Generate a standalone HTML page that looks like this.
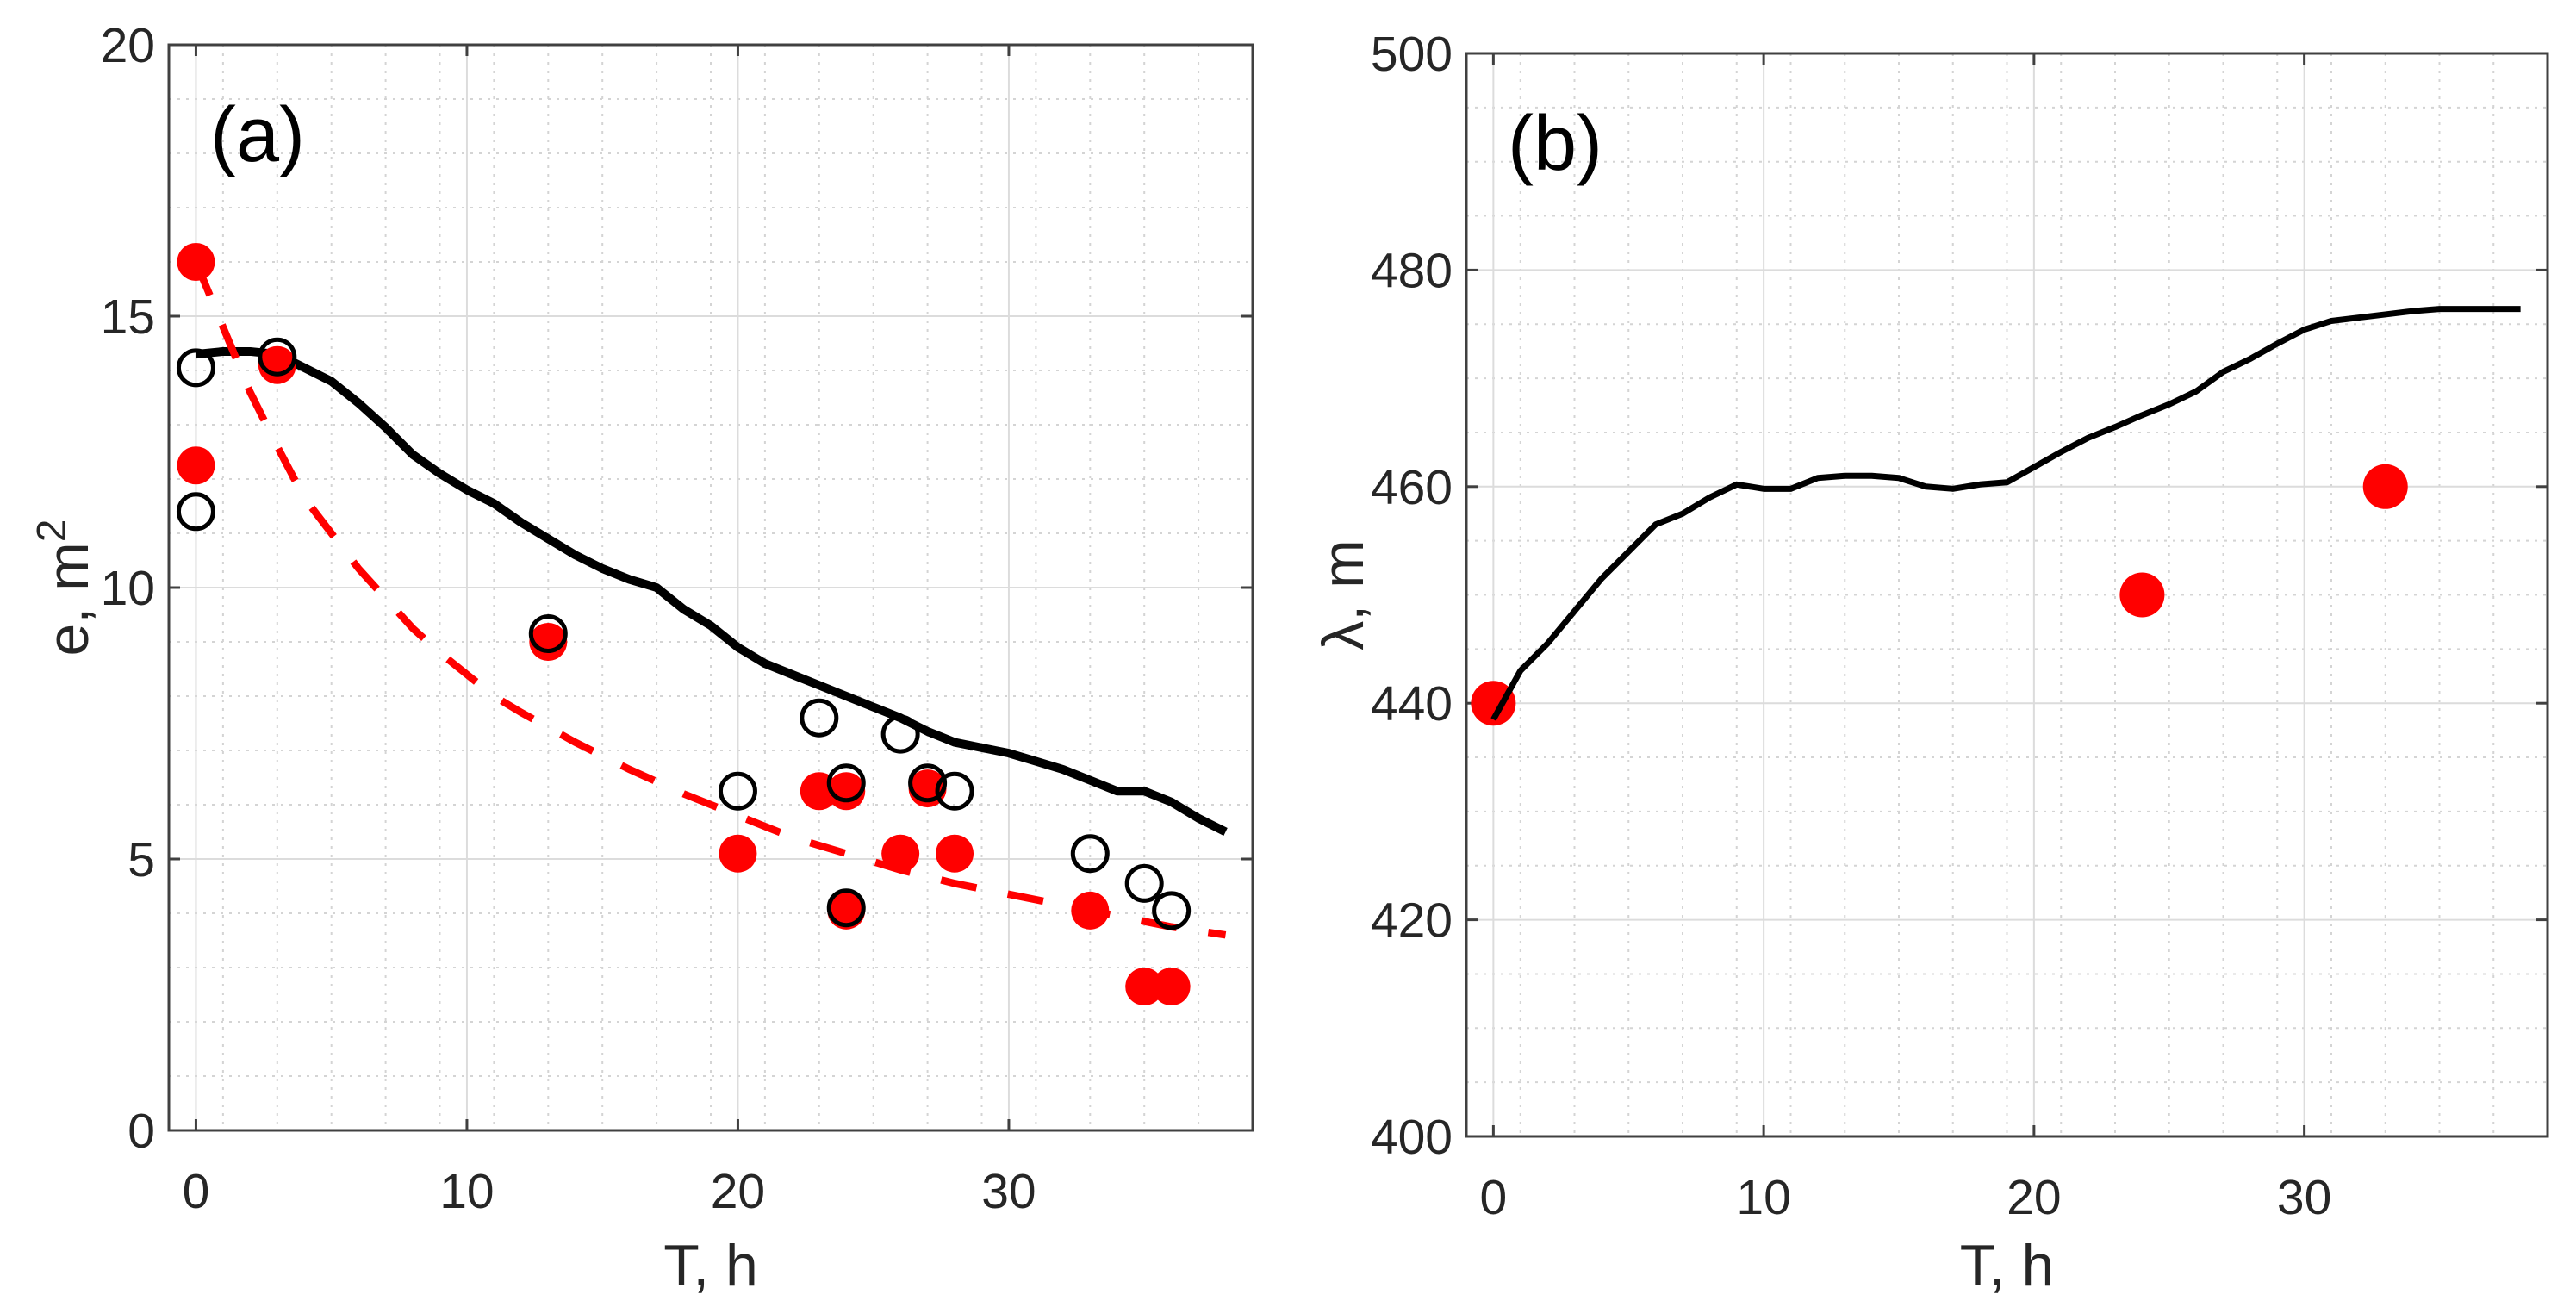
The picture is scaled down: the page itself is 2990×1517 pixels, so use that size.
<!DOCTYPE html>
<html><head><meta charset="utf-8"><style>
html,body{margin:0;padding:0;background:#fff}
svg{display:block}
text{font-family:"Liberation Sans",sans-serif;fill:#262626}
</style></head><body>
<svg id="fig" width="2990" height="1517" xmlns="http://www.w3.org/2000/svg"></svg>
<script>
// Panel (a) data
const aLineT = [0,1,2,3,4,5,6,7,8,9,10,11,12,13,14,15,16,17,18,19,20,21,22,23,24,25,26,27,28,29,30,31,32,33,34,35,36,37,38];
const aLineE = [14.3,14.35,14.35,14.3,14.05,13.8,13.4,12.95,12.45,12.1,11.8,11.55,11.2,10.9,10.6,10.35,10.15,10.0,9.6,9.3,8.9,8.6,8.4,8.2,8.0,7.8,7.6,7.35,7.15,7.05,6.95,6.8,6.65,6.45,6.25,6.25,6.05,5.75,5.5];
const aFitT = [0,1,2,3,4,5,6,7,8,9,10,11,12,14,16,18,20,22,24,26,28,30,32,34,36,38];
const aFitE = [16,14.8,13.6,12.6,11.65,11.0,10.35,9.8,9.25,8.8,8.4,8.0,7.7,7.15,6.65,6.2,5.8,5.4,5.1,4.8,4.55,4.35,4.15,3.95,3.75,3.6];
const aRedT = [0,0,3,13,20,23,24,24,26,27,28,33,35,36];
const aRedE = [16,12.25,14.1,9,5.1,6.25,6.25,4.05,5.1,6.3,5.1,4.05,2.65,2.65];
const aOpenT = [0,0,3,13,20,23,24,24,26,27,28,33,35,36];
const aOpenE = [14.05,11.4,14.25,9.15,6.25,7.6,6.4,4.1,7.3,6.4,6.25,5.1,4.55,4.05];
const aYTicks = [0,5,10,15,20];
const xTicks = [0,10,20,30];
// Panel (b) data
const bLineT = [0,1,2,3,4,5,6,7,8,9,10,11,12,13,14,15,16,17,18,19,20,21,22,23,24,25,26,27,28,29,30,31,32,33,34,35,36,37,38];
const bLineL = [438.5,443,445.5,448.5,451.5,454,456.5,457.5,459,460.2,459.8,459.8,460.8,461,461,460.8,460,459.8,460.2,460.4,461.8,463.2,464.5,465.5,466.6,467.6,468.8,470.6,471.8,473.2,474.5,475.3,475.6,475.9,476.2,476.4,476.4,476.4,476.4];
const bRedT = [0,24,33];
const bRedL = [440,450,460];
const bYTicks = [400,420,440,460,480,500];

const NS="http://www.w3.org/2000/svg";
const svg=document.getElementById('fig');
function el(tag,attrs,parent){const e=document.createElementNS(NS,tag);for(const k in attrs)e.setAttribute(k,attrs[k]);(parent||svg).appendChild(e);return e;}

function panel(cfg){
  const g=el('g',{});
  
  
  const {L,R,T,B,xmin,xmax,ymin,ymax}=cfg;
  const sx=v=>L+(v-xmin)/(xmax-xmin)*(R-L);
  const sy=v=>B-(v-ymin)/(ymax-ymin)*(B-T);
  for(let x=xmin;x<=xmax;x+=cfg.xMinor){ if(x%10===0)continue;
    const l=el('line',{x1:sx(x),x2:sx(x),y1:T,y2:B,stroke:'#d4d4d4','stroke-width':2,'stroke-dasharray':'3,7'},g);
    }
  for(let y=ymin;y<=ymax;y+=cfg.yMinor){ if(cfg.yTicks.includes(y))continue;
    const l=el('line',{x1:L,x2:R,y1:sy(y),y2:sy(y),stroke:'#d4d4d4','stroke-width':2,'stroke-dasharray':'3,7'},g);
    }
  xTicks.forEach(x=>{const l=el('line',{x1:sx(x),x2:sx(x),y1:T,y2:B,stroke:'#dcdcdc','stroke-width':2},g);
    });
  cfg.yTicks.forEach(y=>{const l=el('line',{x1:L,x2:R,y1:sy(y),y2:sy(y),stroke:'#dcdcdc','stroke-width':2},g);
    });
  const box=el('rect',{x:L,y:T,width:R-L,height:B-T,fill:'none',stroke:'#404040','stroke-width':3},g);
  
  xTicks.forEach(x=>{
    el('line',{x1:sx(x),x2:sx(x),y1:B,y2:B-13,stroke:'#404040','stroke-width':3},g);
    el('line',{x1:sx(x),x2:sx(x),y1:T,y2:T+13,stroke:'#404040','stroke-width':3},g);
    const t=el('text',{x:sx(x),y:B+90,'text-anchor':'middle','font-size':57},g);t.textContent=x;
    });
  cfg.yTicks.forEach(y=>{
    el('line',{x1:L,x2:L+13,y1:sy(y),y2:sy(y),stroke:'#404040','stroke-width':3},g);
    el('line',{x1:R,x2:R-13,y1:sy(y),y2:sy(y),stroke:'#404040','stroke-width':3},g);
    const t=el('text',{x:L-16,y:sy(y)+20,'text-anchor':'end','font-size':57},g);t.textContent=y;
    });
  const xl=el('text',{x:(L+R)/2,y:1492,'text-anchor':'middle','font-size':68},g);xl.textContent='T, h';
  
  const yl=el('text',{x:0,y:0,'text-anchor':'middle','font-size':68,transform:`translate(${cfg.ylx},${(T+B)/2}) rotate(-90)`},g);
  yl.innerHTML=cfg.ylabel;
  
  const pl=el('text',{x:L+48,y:T+135,'font-size':90,style:'fill:#000'},g);pl.textContent=cfg.tag;
  
  return {g,sx,sy};
}

// Panel a
const A=panel({name:'panel-a',L:196,R:1454,T:52,B:1312,xmin:-1,xmax:39,ymin:0,ymax:20,xMinor:2,yMinor:1,yTicks:aYTicks,ylx:102,ylabel:'e, m<tspan dy="-26" font-size="48">2</tspan>',tag:'(a)'});
let pts=aLineT.map((t,i)=>A.sx(t)+','+A.sy(aLineE[i])).join(' ');
let pl=el('polyline',{points:pts,fill:'none',stroke:'#000','stroke-width':10,'stroke-linejoin':'round'},A.g);

pts=aFitT.map((t,i)=>A.sx(t)+','+A.sy(aFitE[i])).join(' ');
pl=el('polyline',{points:pts,fill:'none',stroke:'#ff0000','stroke-width':8.5,'stroke-dasharray':'42,37'},A.g);

aRedT.forEach((t,i)=>{const c=el('circle',{cx:A.sx(t),cy:A.sy(aRedE[i]),r:22,fill:'#ff0000'},A.g);
  });
aOpenT.forEach((t,i)=>{const c=el('circle',{cx:A.sx(t),cy:A.sy(aOpenE[i]),r:20,fill:'none',stroke:'#000','stroke-width':5},A.g);
  });

// Panel b
const Bp=panel({name:'panel-b',L:1702,R:2957,T:62,B:1319,xmin:-1,xmax:39,ymin:400,ymax:500,xMinor:2,yMinor:5,yTicks:bYTicks,ylx:1582,ylabel:'λ, m',tag:'(b)'});
bRedT.forEach((t,i)=>{const c=el('circle',{cx:Bp.sx(t),cy:Bp.sy(bRedL[i]),r:26,fill:'#ff0000'},Bp.g);
  });
pts=bLineT.map((t,i)=>Bp.sx(t)+','+Bp.sy(bLineL[i])).join(' ');
pl=el('polyline',{points:pts,fill:'none',stroke:'#000','stroke-width':7,'stroke-linejoin':'round'},Bp.g);

</script>
</body></html>
